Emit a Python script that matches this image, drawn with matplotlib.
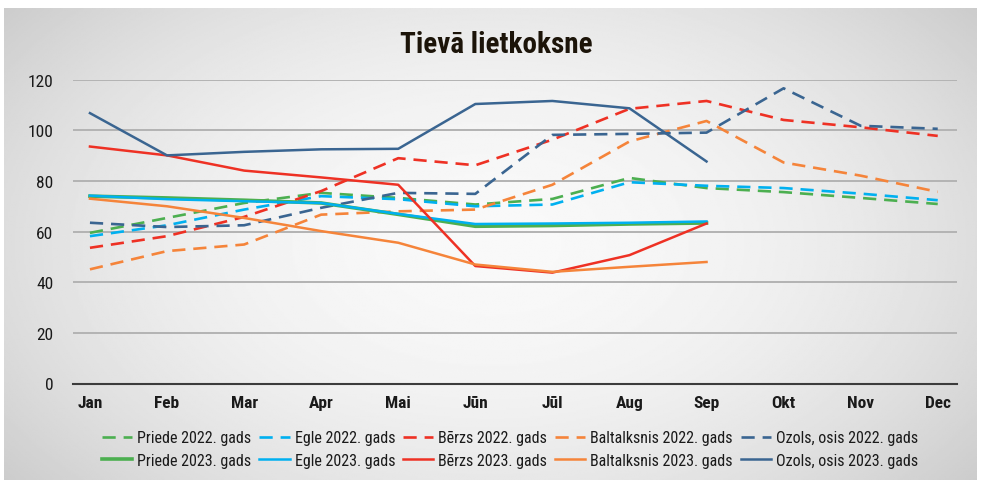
import numpy as np
import matplotlib
matplotlib.use("Agg")
import matplotlib.pyplot as plt
from matplotlib import font_manager as fm

months = ["Jan", "Feb", "Mar", "Apr", "Mai", "Jūn", "Jūl", "Aug", "Sep", "Okt", "Nov", "Dec"]

# 2022 (full year)
priede_2022 = [59.5, 65.4, 71.3, 75.3, 73.3, 70.7, 72.9, 81.2, 77.2, 75.6, 73.3, 70.9]
egle_2022 = [58.2, 62.5, 68.7, 74.0, 72.8, 70.0, 70.7, 79.5, 78.1, 77.2, 75.0, 72.4]
berzs_2022 = [53.6, 58.2, 65.8, 76.0, 89.0, 86.2, 96.3, 108.5, 111.6, 104.1, 101.2, 97.8]
baltalksnis_2022 = [45.1, 52.3, 54.9, 66.7, 68.0, 68.7, 78.5, 95.6, 103.7, 87.3, 82.1, 75.7]
ozols_2022 = [63.5, 61.8, 62.5, 69.4, 75.3, 74.9, 98.2, 98.6, 99.1, 116.6, 101.8, 100.6]

# 2023 (Jan - Sep)
priede_2023 = [74.0, 73.3, 72.4, 71.3, 66.8, 62.1, 62.4, 63.0, 63.4]
egle_2023 = [74.2, 72.8, 72.0, 71.3, 67.0, 63.0, 63.2, 63.5, 64.0]
berzs_2023 = [93.6, 90.1, 84.1, 81.4, 78.5, 46.4, 43.8, 50.7, 63.2]
baltalksnis_2023 = [73.0, 70.0, 65.4, 60.2, 55.6, 47.0, 44.1, 46.1, 48.0]
ozols_2023 = [106.8, 90.1, 91.5, 92.5, 92.7, 110.4, 111.6, 108.7, 87.7]

species = ["Priede", "Egle", "Bērzs", "Baltalksnis", "Ozols, osis"]
colors = ["#4caf50", "#00b0f0", "#ee3124", "#f5843a", "#3a6591"]
data_2022 = [priede_2022, egle_2022, berzs_2022, baltalksnis_2022, ozols_2022]
data_2023 = [priede_2023, egle_2023, berzs_2023, baltalksnis_2023, ozols_2023]

# pick a condensed font if there is one
names = {f.name for f in fm.fontManager.ttflist}
cond = "DejaVu Sans"
for n in ["Roboto Condensed", "Liberation Sans Narrow", "Open Sans Condensed", "Noto Sans Condensed"]:
    if n in names:
        cond = n
        break

fig = plt.figure(figsize=(9.81, 4.81), dpi=100)

# grey radial background
bg = fig.add_axes([4 / 981, 0, 973 / 981, 472 / 481], zorder=-10)
yy, xx = np.mgrid[-1:1:300j, -1:1:600j]
r = np.sqrt((xx * 0.95) ** 2 + (yy * 0.75) ** 2) / 1.21
shade = 0.975 - 0.175 * r ** 2
bg.imshow(shade, cmap="gray", vmin=0, vmax=1, aspect="auto", extent=[0, 1, 0, 1])
bg.axis("off")

ax = fig.add_axes([73 / 981, 1 - 384.5 / 481, 884 / 981, (384.5 - 80.7) / 481])
ax.patch.set_alpha(0)

x = np.arange(len(months))
for name, c, vals in zip(species, colors, data_2022):
    ax.plot(x[:len(vals)], vals, color=c, lw=1.9, dashes=(5, 3), label=name + " 2022. gads")
for name, c, vals in zip(species, colors, data_2023):
    lw = 2.6 if name == "Priede" else 1.8
    ax.plot(x[:len(vals)], vals, color=c, lw=lw, label=name + " 2023. gads")

ax.set_xlim(-0.22, 11.25)
ax.set_ylim(0, 120)
ax.set_yticks(range(0, 121, 20))
ax.set_xticks(x)
ax.set_xticklabels(months, fontfamily=cond, fontweight="bold", fontstretch="condensed", fontsize=12.5, color="#1a1a1a")
for t in ax.get_yticklabels():
    t.set_fontfamily(cond)
    t.set_fontstretch("condensed")
    t.set_fontsize(12.5)
    t.set_color("#1a1a1a")
ax.tick_params(length=0, pad=8)
ax.tick_params(axis="y", pad=14)
ax.grid(axis="y", color="#b3b3b3", lw=1.4)
ax.set_axisbelow(True)
for s in ["top", "right", "left"]:
    ax.spines[s].set_visible(False)
ax.spines["bottom"].set_color("#3c3c3c")
ax.spines["bottom"].set_linewidth(1.5)

h, l = ax.get_legend_handles_labels()
order = []
for i in range(5):
    order += [i, i + 5]
leg = fig.legend([h[i] for i in order], [l[i] for i in order], ncol=5, loc="center",
                 bbox_to_anchor=(510 / 981, 1 - 450 / 481), frameon=False,
                 prop=dict(family=cond, stretch="condensed", size=11.5),
                 handlelength=1.9, handletextpad=0.3, columnspacing=0.5, labelspacing=0.45)
for t in leg.get_texts():
    t.set_color("#1a1a1a")

fig.text(496 / 981, 1 - 45 / 481, "Tievā lietkoksne", ha="center", va="center",
         fontfamily=cond, fontweight="heavy", fontstretch="condensed", fontsize=21, color="#1c1409")

fig.savefig("out.png", dpi=100)
